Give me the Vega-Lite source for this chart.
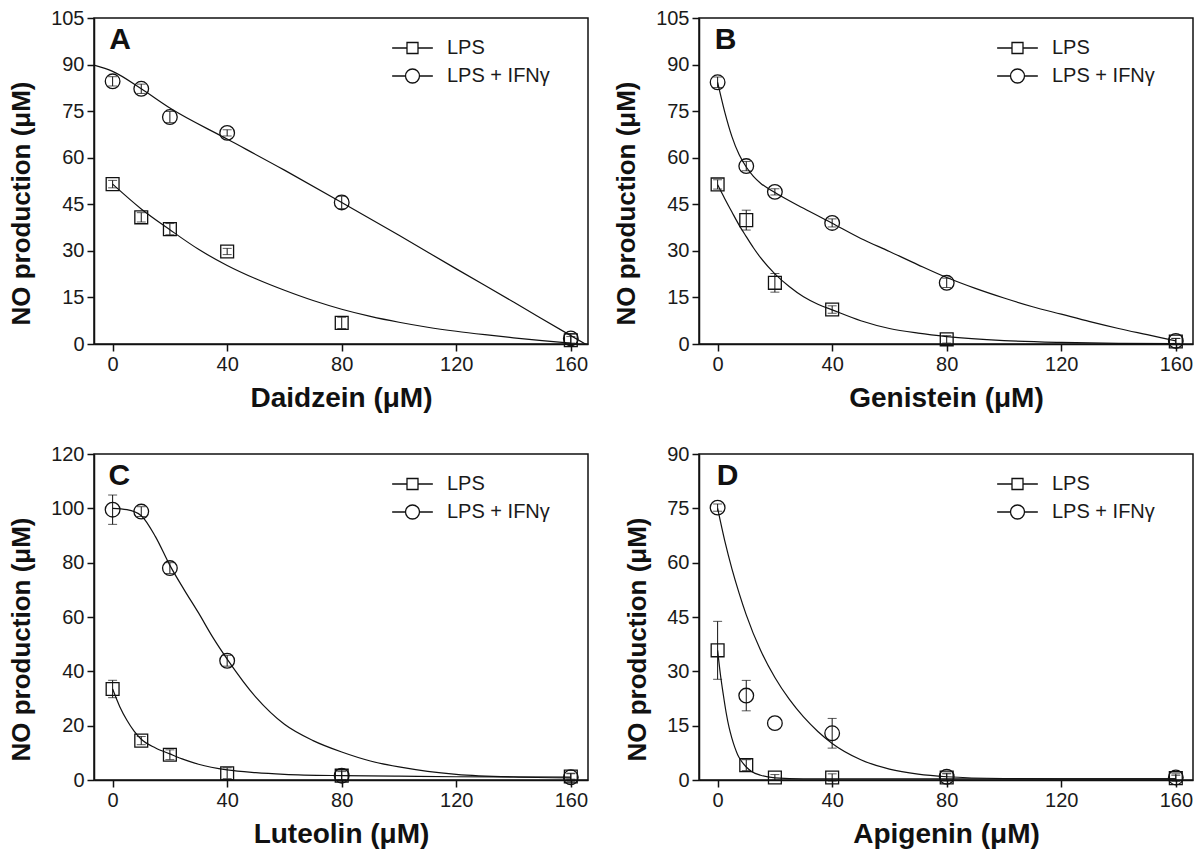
{
  "$schema": "https://vega.github.io/schema/vega-lite/v6.json",
  "padding": {"left": 7, "top": 7, "right": 5, "bottom": 5},
  "background": "white",
  "config": {
    "font": "Liberation Sans",
    "view": {"stroke": "#111", "strokeWidth": 1.5},
    "axis": {"grid": false, "domainColor": "#111", "domainWidth": 1.5, "tickColor": "#111", "tickWidth": 1.5, "tickSize": 7,
      "labelFont": "Liberation Sans", "labelFontSize": 20, "labelColor": "#1a1a1a", "labelPadding": 3, "labelFlush": false, "labelOverlap": false,
      "titleFont": "Liberation Sans", "titleFontWeight": "bold", "titleColor": "#111"},
    "axisX": {"titleFontSize": 28, "titlePadding": 10},
    "axisY": {"titleFontSize": 26, "titlePadding": 16},
    "legend": {"orient": "none", "legendX": 308.5, "legendY": 20, "padding": 0, "title": null,
      "labelFont": "Liberation Sans", "labelFontSize": 20, "labelColor": "#1a1a1a", "labelOffset": 24.5,
      "symbolSize": 121, "symbolStrokeColor": "#111", "symbolStrokeWidth": 1.3, "symbolFillColor": "white", "rowPadding": 8}
  },
  "datasets": {
    "pts": [
      {"p": "A", "t": "LPS", "c": 0, "m": 51.5, "e": 1.2}, {"p": "A", "t": "LPS", "c": 10, "m": 40.8, "e": 1.5}, {"p": "A", "t": "LPS", "c": 20, "m": 37.0, "e": 1.8}, {"p": "A", "t": "LPS", "c": 40, "m": 29.8, "e": 1.0}, {"p": "A", "t": "LPS", "c": 80, "m": 6.8, "e": 1.8}, {"p": "A", "t": "LPS", "c": 160, "m": 1.2, "e": 1.2},
      {"p": "A", "t": "LPS + IFNγ", "c": 0, "m": 84.6, "e": 1.5}, {"p": "A", "t": "LPS + IFNγ", "c": 10, "m": 82.2, "e": 1.5}, {"p": "A", "t": "LPS + IFNγ", "c": 20, "m": 73.1, "e": 1.8}, {"p": "A", "t": "LPS + IFNγ", "c": 40, "m": 68.0, "e": 1.0}, {"p": "A", "t": "LPS + IFNγ", "c": 80, "m": 45.6, "e": 2.0}, {"p": "A", "t": "LPS + IFNγ", "c": 160, "m": 1.8, "e": 1.5},
      {"p": "B", "t": "LPS", "c": 0, "m": 51.4, "e": 1.5}, {"p": "B", "t": "LPS", "c": 10, "m": 39.9, "e": 3.2}, {"p": "B", "t": "LPS", "c": 20, "m": 19.7, "e": 3.0}, {"p": "B", "t": "LPS", "c": 40, "m": 11.1, "e": 1.2}, {"p": "B", "t": "LPS", "c": 80, "m": 1.5, "e": 1.2}, {"p": "B", "t": "LPS", "c": 160, "m": 0.8, "e": 1.0},
      {"p": "B", "t": "LPS + IFNγ", "c": 0, "m": 84.3, "e": 1.7}, {"p": "B", "t": "LPS + IFNγ", "c": 10, "m": 57.3, "e": 1.5}, {"p": "B", "t": "LPS + IFNγ", "c": 20, "m": 49.0, "e": 1.0}, {"p": "B", "t": "LPS + IFNγ", "c": 40, "m": 39.0, "e": 1.3}, {"p": "B", "t": "LPS + IFNγ", "c": 80, "m": 19.7, "e": 1.5}, {"p": "B", "t": "LPS + IFNγ", "c": 160, "m": 1.0, "e": 0.8},
      {"p": "C", "t": "LPS", "c": 0, "m": 33.5, "e": 3.2}, {"p": "C", "t": "LPS", "c": 10, "m": 14.5, "e": 1.5}, {"p": "C", "t": "LPS", "c": 20, "m": 9.3, "e": 1.8}, {"p": "C", "t": "LPS", "c": 40, "m": 2.5, "e": 2.0}, {"p": "C", "t": "LPS", "c": 80, "m": 1.6, "e": 1.5}, {"p": "C", "t": "LPS", "c": 160, "m": 1.3, "e": 1.0},
      {"p": "C", "t": "LPS + IFNγ", "c": 0, "m": 99.5, "e": 5.4}, {"p": "C", "t": "LPS + IFNγ", "c": 10, "m": 98.8, "e": 1.8}, {"p": "C", "t": "LPS + IFNγ", "c": 20, "m": 78.0, "e": 2.0}, {"p": "C", "t": "LPS + IFNγ", "c": 40, "m": 43.9, "e": 2.0}, {"p": "C", "t": "LPS + IFNγ", "c": 80, "m": 1.6, "e": 2.0}, {"p": "C", "t": "LPS + IFNγ", "c": 160, "m": 1.0, "e": 1.5},
      {"p": "D", "t": "LPS", "c": 0, "m": 35.8, "e": 8.0}, {"p": "D", "t": "LPS", "c": 10, "m": 4.1, "e": 1.5}, {"p": "D", "t": "LPS", "c": 20, "m": 0.7, "e": 0.8}, {"p": "D", "t": "LPS", "c": 40, "m": 0.7, "e": 1.0}, {"p": "D", "t": "LPS", "c": 80, "m": 0.7, "e": 1.0}, {"p": "D", "t": "LPS", "c": 160, "m": 0.5, "e": 0.8},
      {"p": "D", "t": "LPS + IFNγ", "c": 0, "m": 75.2, "e": 1.0}, {"p": "D", "t": "LPS + IFNγ", "c": 10, "m": 23.3, "e": 4.2}, {"p": "D", "t": "LPS + IFNγ", "c": 20, "m": 15.7, "e": 0}, {"p": "D", "t": "LPS + IFNγ", "c": 40, "m": 12.9, "e": 4.1}, {"p": "D", "t": "LPS + IFNγ", "c": 80, "m": 0.9, "e": 1.0}, {"p": "D", "t": "LPS + IFNγ", "c": 160, "m": 0.7, "e": 1.0}
    ],
    "fit": [
      {"p": "A", "t": "LPS", "c": 0, "v": 51.5}, {"p": "A", "t": "LPS", "c": 10, "v": 43.5}, {"p": "A", "t": "LPS", "c": 20, "v": 36.8}, {"p": "A", "t": "LPS", "c": 30, "v": 30.5}, {"p": "A", "t": "LPS", "c": 40, "v": 25.3}, {"p": "A", "t": "LPS", "c": 50, "v": 21}, {"p": "A", "t": "LPS", "c": 60, "v": 17.3}, {"p": "A", "t": "LPS", "c": 70, "v": 14}, {"p": "A", "t": "LPS", "c": 80, "v": 11.2}, {"p": "A", "t": "LPS", "c": 90, "v": 8.9}, {"p": "A", "t": "LPS", "c": 100, "v": 7}, {"p": "A", "t": "LPS", "c": 110, "v": 5.4}, {"p": "A", "t": "LPS", "c": 120, "v": 4.1}, {"p": "A", "t": "LPS", "c": 130, "v": 3}, {"p": "A", "t": "LPS", "c": 140, "v": 2}, {"p": "A", "t": "LPS", "c": 150, "v": 1.1}, {"p": "A", "t": "LPS", "c": 160, "v": 0.3},
      {"p": "A", "t": "LPS + IFNγ", "c": -6.5, "v": 89.8}, {"p": "A", "t": "LPS + IFNγ", "c": 0, "v": 87.8}, {"p": "A", "t": "LPS + IFNγ", "c": 10, "v": 82.2}, {"p": "A", "t": "LPS + IFNγ", "c": 20, "v": 76}, {"p": "A", "t": "LPS + IFNγ", "c": 40, "v": 66}, {"p": "A", "t": "LPS + IFNγ", "c": 60, "v": 56}, {"p": "A", "t": "LPS + IFNγ", "c": 80, "v": 45.6}, {"p": "A", "t": "LPS + IFNγ", "c": 100, "v": 35}, {"p": "A", "t": "LPS + IFNγ", "c": 120, "v": 24.2}, {"p": "A", "t": "LPS + IFNγ", "c": 140, "v": 13.5}, {"p": "A", "t": "LPS + IFNγ", "c": 160, "v": 2.7}, {"p": "A", "t": "LPS + IFNγ", "c": 166, "v": -0.5},
      {"p": "B", "t": "LPS", "c": 0, "v": 51.3}, {"p": "B", "t": "LPS", "c": 2.5, "v": 46.8}, {"p": "B", "t": "LPS", "c": 5, "v": 42.5}, {"p": "B", "t": "LPS", "c": 7.5, "v": 38.3}, {"p": "B", "t": "LPS", "c": 10, "v": 34.6}, {"p": "B", "t": "LPS", "c": 12.5, "v": 31}, {"p": "B", "t": "LPS", "c": 15, "v": 27.8}, {"p": "B", "t": "LPS", "c": 20, "v": 22.6}, {"p": "B", "t": "LPS", "c": 25, "v": 18.5}, {"p": "B", "t": "LPS", "c": 30, "v": 15.2}, {"p": "B", "t": "LPS", "c": 35, "v": 12.8}, {"p": "B", "t": "LPS", "c": 40, "v": 11}, {"p": "B", "t": "LPS", "c": 50, "v": 7.5}, {"p": "B", "t": "LPS", "c": 60, "v": 5}, {"p": "B", "t": "LPS", "c": 70, "v": 3.5}, {"p": "B", "t": "LPS", "c": 80, "v": 2.4}, {"p": "B", "t": "LPS", "c": 100, "v": 1.1}, {"p": "B", "t": "LPS", "c": 120, "v": 0.5}, {"p": "B", "t": "LPS", "c": 140, "v": 0.2}, {"p": "B", "t": "LPS", "c": 160, "v": 0.1},
      {"p": "B", "t": "LPS + IFNγ", "c": 0, "v": 84.3}, {"p": "B", "t": "LPS + IFNγ", "c": 2.5, "v": 74.7}, {"p": "B", "t": "LPS + IFNγ", "c": 5, "v": 66.8}, {"p": "B", "t": "LPS + IFNγ", "c": 7.5, "v": 61}, {"p": "B", "t": "LPS + IFNγ", "c": 10, "v": 57}, {"p": "B", "t": "LPS + IFNγ", "c": 12.5, "v": 54}, {"p": "B", "t": "LPS + IFNγ", "c": 15, "v": 51.8}, {"p": "B", "t": "LPS + IFNγ", "c": 20, "v": 48.8}, {"p": "B", "t": "LPS + IFNγ", "c": 30, "v": 43.7}, {"p": "B", "t": "LPS + IFNγ", "c": 40, "v": 38.9}, {"p": "B", "t": "LPS + IFNγ", "c": 50, "v": 34}, {"p": "B", "t": "LPS + IFNγ", "c": 60, "v": 29.8}, {"p": "B", "t": "LPS + IFNγ", "c": 70, "v": 25.5}, {"p": "B", "t": "LPS + IFNγ", "c": 80, "v": 21.4}, {"p": "B", "t": "LPS + IFNγ", "c": 90, "v": 17.9}, {"p": "B", "t": "LPS + IFNγ", "c": 100, "v": 14.8}, {"p": "B", "t": "LPS + IFNγ", "c": 110, "v": 12}, {"p": "B", "t": "LPS + IFNγ", "c": 120, "v": 9.6}, {"p": "B", "t": "LPS + IFNγ", "c": 130, "v": 7.2}, {"p": "B", "t": "LPS + IFNγ", "c": 140, "v": 5}, {"p": "B", "t": "LPS + IFNγ", "c": 150, "v": 3}, {"p": "B", "t": "LPS + IFNγ", "c": 160, "v": 1},
      {"p": "C", "t": "LPS", "c": 0, "v": 33.5}, {"p": "C", "t": "LPS", "c": 2.5, "v": 27}, {"p": "C", "t": "LPS", "c": 5, "v": 22}, {"p": "C", "t": "LPS", "c": 7.5, "v": 18}, {"p": "C", "t": "LPS", "c": 10, "v": 15}, {"p": "C", "t": "LPS", "c": 15, "v": 11.8}, {"p": "C", "t": "LPS", "c": 20, "v": 9.6}, {"p": "C", "t": "LPS", "c": 25, "v": 7.5}, {"p": "C", "t": "LPS", "c": 30, "v": 5.8}, {"p": "C", "t": "LPS", "c": 40, "v": 3.7}, {"p": "C", "t": "LPS", "c": 50, "v": 2.7}, {"p": "C", "t": "LPS", "c": 60, "v": 2.1}, {"p": "C", "t": "LPS", "c": 80, "v": 1.6}, {"p": "C", "t": "LPS", "c": 100, "v": 1.4}, {"p": "C", "t": "LPS", "c": 120, "v": 1.2}, {"p": "C", "t": "LPS", "c": 160, "v": 1.1},
      {"p": "C", "t": "LPS + IFNγ", "c": 0, "v": 100}, {"p": "C", "t": "LPS + IFNγ", "c": 5, "v": 99.5}, {"p": "C", "t": "LPS + IFNγ", "c": 10, "v": 97.3}, {"p": "C", "t": "LPS + IFNγ", "c": 15, "v": 89.5}, {"p": "C", "t": "LPS + IFNγ", "c": 20, "v": 79}, {"p": "C", "t": "LPS + IFNγ", "c": 25, "v": 70}, {"p": "C", "t": "LPS + IFNγ", "c": 30, "v": 61.5}, {"p": "C", "t": "LPS + IFNγ", "c": 35, "v": 52.5}, {"p": "C", "t": "LPS + IFNγ", "c": 40, "v": 44.5}, {"p": "C", "t": "LPS + IFNγ", "c": 50, "v": 30.5}, {"p": "C", "t": "LPS + IFNγ", "c": 60, "v": 20.5}, {"p": "C", "t": "LPS + IFNγ", "c": 70, "v": 14.5}, {"p": "C", "t": "LPS + IFNγ", "c": 80, "v": 10.3}, {"p": "C", "t": "LPS + IFNγ", "c": 90, "v": 7}, {"p": "C", "t": "LPS + IFNγ", "c": 100, "v": 4.8}, {"p": "C", "t": "LPS + IFNγ", "c": 110, "v": 3.2}, {"p": "C", "t": "LPS + IFNγ", "c": 120, "v": 2.1}, {"p": "C", "t": "LPS + IFNγ", "c": 140, "v": 1.1}, {"p": "C", "t": "LPS + IFNγ", "c": 160, "v": 0.8},
      {"p": "D", "t": "LPS", "c": 0, "v": 35.8}, {"p": "D", "t": "LPS", "c": 1, "v": 29}, {"p": "D", "t": "LPS", "c": 2, "v": 23.5}, {"p": "D", "t": "LPS", "c": 3, "v": 18.5}, {"p": "D", "t": "LPS", "c": 4, "v": 14.5}, {"p": "D", "t": "LPS", "c": 5, "v": 11.5}, {"p": "D", "t": "LPS", "c": 6, "v": 9}, {"p": "D", "t": "LPS", "c": 7, "v": 7}, {"p": "D", "t": "LPS", "c": 8, "v": 5.6}, {"p": "D", "t": "LPS", "c": 10, "v": 3.6}, {"p": "D", "t": "LPS", "c": 12, "v": 2.3}, {"p": "D", "t": "LPS", "c": 15, "v": 1.3}, {"p": "D", "t": "LPS", "c": 20, "v": 0.6}, {"p": "D", "t": "LPS", "c": 30, "v": 0.3}, {"p": "D", "t": "LPS", "c": 80, "v": 0.3}, {"p": "D", "t": "LPS", "c": 160, "v": 0.3},
      {"p": "D", "t": "LPS + IFNγ", "c": 0, "v": 75}, {"p": "D", "t": "LPS + IFNγ", "c": 2.5, "v": 66}, {"p": "D", "t": "LPS + IFNγ", "c": 5, "v": 58.3}, {"p": "D", "t": "LPS + IFNγ", "c": 7.5, "v": 51.6}, {"p": "D", "t": "LPS + IFNγ", "c": 10, "v": 45.6}, {"p": "D", "t": "LPS + IFNγ", "c": 15, "v": 35.8}, {"p": "D", "t": "LPS + IFNγ", "c": 20, "v": 28.3}, {"p": "D", "t": "LPS + IFNγ", "c": 25, "v": 22.3}, {"p": "D", "t": "LPS + IFNγ", "c": 30, "v": 17.4}, {"p": "D", "t": "LPS + IFNγ", "c": 35, "v": 13.4}, {"p": "D", "t": "LPS + IFNγ", "c": 40, "v": 10.1}, {"p": "D", "t": "LPS + IFNγ", "c": 50, "v": 5.6}, {"p": "D", "t": "LPS + IFNγ", "c": 60, "v": 3}, {"p": "D", "t": "LPS + IFNγ", "c": 70, "v": 1.6}, {"p": "D", "t": "LPS + IFNγ", "c": 80, "v": 0.9}, {"p": "D", "t": "LPS + IFNγ", "c": 100, "v": 0.4}, {"p": "D", "t": "LPS + IFNγ", "c": 120, "v": 0.3}, {"p": "D", "t": "LPS + IFNγ", "c": 160, "v": 0.3}
    ]
  },
  "concat": [
    {
      "width": 494, "height": 326,
      "resolve": {"scale": {"shape": "independent"}, "legend": {"shape": "independent"}},
      "layer": [
        {"data": {"name": "fit"}, "transform": [{"filter": "datum.p === 'A'"}],
         "mark": {"type": "line", "color": "#111", "strokeWidth": 1.2, "interpolate": "monotone", "clip": true},
         "encoding": {
           "x": {"field": "c", "type": "quantitative", "title": "Daidzein (μM)", "scale": {"domain": [-6.5, 166], "nice": false}, "axis": {"values": [0, 40, 80, 120, 160]}},
           "y": {"field": "v", "type": "quantitative", "title": "NO production (μM)", "scale": {"domain": [0, 105], "nice": false}, "axis": {"values": [0, 15, 30, 45, 60, 75, 90, 105], "titleY": 185}},
           "detail": {"field": "t"}}},
        {"data": {"name": "pts"}, "transform": [{"filter": "datum.p === 'A' && datum.e > 0"}],
         "mark": {"type": "errorbar", "color": "#111", "ticks": {"size": 9}, "rule": {"strokeWidth": 1}},
         "encoding": {"x": {"field": "c", "type": "quantitative", "title": "Daidzein (μM)", "scale": {"domain": [-6.5, 166], "nice": false}}, "y": {"field": "m", "type": "quantitative", "title": "NO production (μM)", "scale": {"domain": [0, 105], "nice": false}}, "yError": {"field": "e"}}},
        {"data": {"name": "pts"}, "transform": [{"filter": "datum.p === 'A'"}],
         "mark": {"type": "point", "filled": false, "strokeWidth": 1.3, "color": "#111", "opacity": 1},
         "encoding": {"x": {"field": "c", "type": "quantitative", "title": "Daidzein (μM)", "scale": {"domain": [-6.5, 166], "nice": false}}, "y": {"field": "m", "type": "quantitative", "title": "NO production (μM)", "scale": {"domain": [0, 105], "nice": false}},
           "shape": {"field": "t", "type": "nominal", "scale": {"domain": ["LPS", "LPS + IFNγ"], "range": ["square", "circle"]}, "legend": null},
           "size": {"field": "t", "type": "nominal", "scale": {"domain": ["LPS", "LPS + IFNγ"], "range": [165, 215]}, "legend": null}}},
        {"data": {"values": []},
         "mark": {"type": "point", "filled": false, "strokeWidth": 1.3, "color": "#111", "opacity": 1},
         "encoding": {"shape": {"field": "t", "type": "nominal", "scale": {"domain": ["LPS", "LPS + IFNγ"], "range": ["M-3.7,0H-1M1,0H3.7M-1,-1H1V1H-1Z", "M-3.7,0H-1.27M1.27,0H3.7M-1.27,0A1.27,1.27,0,1,0,1.27,0A1.27,1.27,0,1,0,-1.27,0Z"]}}}},
        {"data": {"values": [{}]},
         "mark": {"type": "text", "text": "A", "font": "Liberation Sans", "fontSize": 30, "fontWeight": "bold", "align": "left", "baseline": "alphabetic", "color": "#111"},
         "encoding": {"x": {"datum": -1.2, "type": "quantitative", "title": "Daidzein (μM)", "scale": {"domain": [-6.5, 166], "nice": false}}, "y": {"datum": 95, "type": "quantitative", "title": "NO production (μM)", "scale": {"domain": [0, 105], "nice": false}}}}
      ]
    },
    {
      "width": 494, "height": 326,
      "resolve": {"scale": {"shape": "independent"}, "legend": {"shape": "independent"}},
      "layer": [
        {"data": {"name": "fit"}, "transform": [{"filter": "datum.p === 'B'"}],
         "mark": {"type": "line", "color": "#111", "strokeWidth": 1.2, "interpolate": "monotone", "clip": true},
         "encoding": {
           "x": {"field": "c", "type": "quantitative", "title": "Genistein (μM)", "scale": {"domain": [-6.5, 166], "nice": false}, "axis": {"values": [0, 40, 80, 120, 160]}},
           "y": {"field": "v", "type": "quantitative", "title": "NO production (μM)", "scale": {"domain": [0, 105], "nice": false}, "axis": {"values": [0, 15, 30, 45, 60, 75, 90, 105], "titleY": 185}},
           "detail": {"field": "t"}}},
        {"data": {"name": "pts"}, "transform": [{"filter": "datum.p === 'B' && datum.e > 0"}],
         "mark": {"type": "errorbar", "color": "#111", "ticks": {"size": 9}, "rule": {"strokeWidth": 1}},
         "encoding": {"x": {"field": "c", "type": "quantitative", "title": "Genistein (μM)", "scale": {"domain": [-6.5, 166], "nice": false}}, "y": {"field": "m", "type": "quantitative", "title": "NO production (μM)", "scale": {"domain": [0, 105], "nice": false}}, "yError": {"field": "e"}}},
        {"data": {"name": "pts"}, "transform": [{"filter": "datum.p === 'B'"}],
         "mark": {"type": "point", "filled": false, "strokeWidth": 1.3, "color": "#111", "opacity": 1},
         "encoding": {"x": {"field": "c", "type": "quantitative", "title": "Genistein (μM)", "scale": {"domain": [-6.5, 166], "nice": false}}, "y": {"field": "m", "type": "quantitative", "title": "NO production (μM)", "scale": {"domain": [0, 105], "nice": false}},
           "shape": {"field": "t", "type": "nominal", "scale": {"domain": ["LPS", "LPS + IFNγ"], "range": ["square", "circle"]}, "legend": null},
           "size": {"field": "t", "type": "nominal", "scale": {"domain": ["LPS", "LPS + IFNγ"], "range": [165, 215]}, "legend": null}}},
        {"data": {"values": []},
         "mark": {"type": "point", "filled": false, "strokeWidth": 1.3, "color": "#111", "opacity": 1},
         "encoding": {"shape": {"field": "t", "type": "nominal", "scale": {"domain": ["LPS", "LPS + IFNγ"], "range": ["M-3.7,0H-1M1,0H3.7M-1,-1H1V1H-1Z", "M-3.7,0H-1.27M1.27,0H3.7M-1.27,0A1.27,1.27,0,1,0,1.27,0A1.27,1.27,0,1,0,-1.27,0Z"]}}}},
        {"data": {"values": [{}]},
         "mark": {"type": "text", "text": "B", "font": "Liberation Sans", "fontSize": 30, "fontWeight": "bold", "align": "left", "baseline": "alphabetic", "color": "#111"},
         "encoding": {"x": {"datum": -1, "type": "quantitative", "title": "Genistein (μM)", "scale": {"domain": [-6.5, 166], "nice": false}}, "y": {"datum": 95, "type": "quantitative", "title": "NO production (μM)", "scale": {"domain": [0, 105], "nice": false}}}}
      ]
    },
    {
      "width": 494, "height": 326,
      "resolve": {"scale": {"shape": "independent"}, "legend": {"shape": "independent"}},
      "layer": [
        {"data": {"name": "fit"}, "transform": [{"filter": "datum.p === 'C'"}],
         "mark": {"type": "line", "color": "#111", "strokeWidth": 1.2, "interpolate": "monotone", "clip": true},
         "encoding": {
           "x": {"field": "c", "type": "quantitative", "title": "Luteolin (μM)", "scale": {"domain": [-6.5, 166], "nice": false}, "axis": {"values": [0, 40, 80, 120, 160]}},
           "y": {"field": "v", "type": "quantitative", "title": "NO production (μM)", "scale": {"domain": [0, 120], "nice": false}, "axis": {"values": [0, 20, 40, 60, 80, 100, 120], "titleY": 185}},
           "detail": {"field": "t"}}},
        {"data": {"name": "pts"}, "transform": [{"filter": "datum.p === 'C' && datum.e > 0"}],
         "mark": {"type": "errorbar", "color": "#111", "ticks": {"size": 9}, "rule": {"strokeWidth": 1}},
         "encoding": {"x": {"field": "c", "type": "quantitative", "title": "Luteolin (μM)", "scale": {"domain": [-6.5, 166], "nice": false}}, "y": {"field": "m", "type": "quantitative", "title": "NO production (μM)", "scale": {"domain": [0, 120], "nice": false}}, "yError": {"field": "e"}}},
        {"data": {"name": "pts"}, "transform": [{"filter": "datum.p === 'C'"}],
         "mark": {"type": "point", "filled": false, "strokeWidth": 1.3, "color": "#111", "opacity": 1},
         "encoding": {"x": {"field": "c", "type": "quantitative", "title": "Luteolin (μM)", "scale": {"domain": [-6.5, 166], "nice": false}}, "y": {"field": "m", "type": "quantitative", "title": "NO production (μM)", "scale": {"domain": [0, 120], "nice": false}},
           "shape": {"field": "t", "type": "nominal", "scale": {"domain": ["LPS", "LPS + IFNγ"], "range": ["square", "circle"]}, "legend": null},
           "size": {"field": "t", "type": "nominal", "scale": {"domain": ["LPS", "LPS + IFNγ"], "range": [165, 215]}, "legend": null}}},
        {"data": {"values": []},
         "mark": {"type": "point", "filled": false, "strokeWidth": 1.3, "color": "#111", "opacity": 1},
         "encoding": {"shape": {"field": "t", "type": "nominal", "scale": {"domain": ["LPS", "LPS + IFNγ"], "range": ["M-3.7,0H-1M1,0H3.7M-1,-1H1V1H-1Z", "M-3.7,0H-1.27M1.27,0H3.7M-1.27,0A1.27,1.27,0,1,0,1.27,0A1.27,1.27,0,1,0,-1.27,0Z"]}}}},
        {"data": {"values": [{}]},
         "mark": {"type": "text", "text": "C", "font": "Liberation Sans", "fontSize": 30, "fontWeight": "bold", "align": "left", "baseline": "alphabetic", "color": "#111"},
         "encoding": {"x": {"datum": -1.4, "type": "quantitative", "title": "Luteolin (μM)", "scale": {"domain": [-6.5, 166], "nice": false}}, "y": {"datum": 108.5, "type": "quantitative", "title": "NO production (μM)", "scale": {"domain": [0, 120], "nice": false}}}}
      ]
    },
    {
      "width": 494, "height": 326,
      "resolve": {"scale": {"shape": "independent"}, "legend": {"shape": "independent"}},
      "layer": [
        {"data": {"name": "fit"}, "transform": [{"filter": "datum.p === 'D'"}],
         "mark": {"type": "line", "color": "#111", "strokeWidth": 1.2, "interpolate": "monotone", "clip": true},
         "encoding": {
           "x": {"field": "c", "type": "quantitative", "title": "Apigenin (μM)", "scale": {"domain": [-6.5, 166], "nice": false}, "axis": {"values": [0, 40, 80, 120, 160]}},
           "y": {"field": "v", "type": "quantitative", "title": "NO production (μM)", "scale": {"domain": [0, 90], "nice": false}, "axis": {"values": [0, 15, 30, 45, 60, 75, 90], "titleY": 185}},
           "detail": {"field": "t"}}},
        {"data": {"name": "pts"}, "transform": [{"filter": "datum.p === 'D' && datum.e > 0"}],
         "mark": {"type": "errorbar", "color": "#111", "ticks": {"size": 9}, "rule": {"strokeWidth": 1}},
         "encoding": {"x": {"field": "c", "type": "quantitative", "title": "Apigenin (μM)", "scale": {"domain": [-6.5, 166], "nice": false}}, "y": {"field": "m", "type": "quantitative", "title": "NO production (μM)", "scale": {"domain": [0, 90], "nice": false}}, "yError": {"field": "e"}}},
        {"data": {"name": "pts"}, "transform": [{"filter": "datum.p === 'D'"}],
         "mark": {"type": "point", "filled": false, "strokeWidth": 1.3, "color": "#111", "opacity": 1},
         "encoding": {"x": {"field": "c", "type": "quantitative", "title": "Apigenin (μM)", "scale": {"domain": [-6.5, 166], "nice": false}}, "y": {"field": "m", "type": "quantitative", "title": "NO production (μM)", "scale": {"domain": [0, 90], "nice": false}},
           "shape": {"field": "t", "type": "nominal", "scale": {"domain": ["LPS", "LPS + IFNγ"], "range": ["square", "circle"]}, "legend": null},
           "size": {"field": "t", "type": "nominal", "scale": {"domain": ["LPS", "LPS + IFNγ"], "range": [165, 215]}, "legend": null}}},
        {"data": {"values": []},
         "mark": {"type": "point", "filled": false, "strokeWidth": 1.3, "color": "#111", "opacity": 1},
         "encoding": {"shape": {"field": "t", "type": "nominal", "scale": {"domain": ["LPS", "LPS + IFNγ"], "range": ["M-3.7,0H-1M1,0H3.7M-1,-1H1V1H-1Z", "M-3.7,0H-1.27M1.27,0H3.7M-1.27,0A1.27,1.27,0,1,0,1.27,0A1.27,1.27,0,1,0,-1.27,0Z"]}}}},
        {"data": {"values": [{}]},
         "mark": {"type": "text", "text": "D", "font": "Liberation Sans", "fontSize": 30, "fontWeight": "bold", "align": "left", "baseline": "alphabetic", "color": "#111"},
         "encoding": {"x": {"datum": -0.3, "type": "quantitative", "title": "Apigenin (μM)", "scale": {"domain": [-6.5, 166], "nice": false}}, "y": {"datum": 81.5, "type": "quantitative", "title": "NO production (μM)", "scale": {"domain": [0, 90], "nice": false}}}}
      ]
    }
  ],
  "columns": 2,
  "spacing": {"row": 110, "column": 111},
  "bounds": "flush",
  "resolve": {"scale": {"x": "independent", "y": "independent", "shape": "independent", "size": "independent"}, "axis": {"x": "independent", "y": "independent"}, "legend": {"shape": "independent", "size": "independent"}}
}
